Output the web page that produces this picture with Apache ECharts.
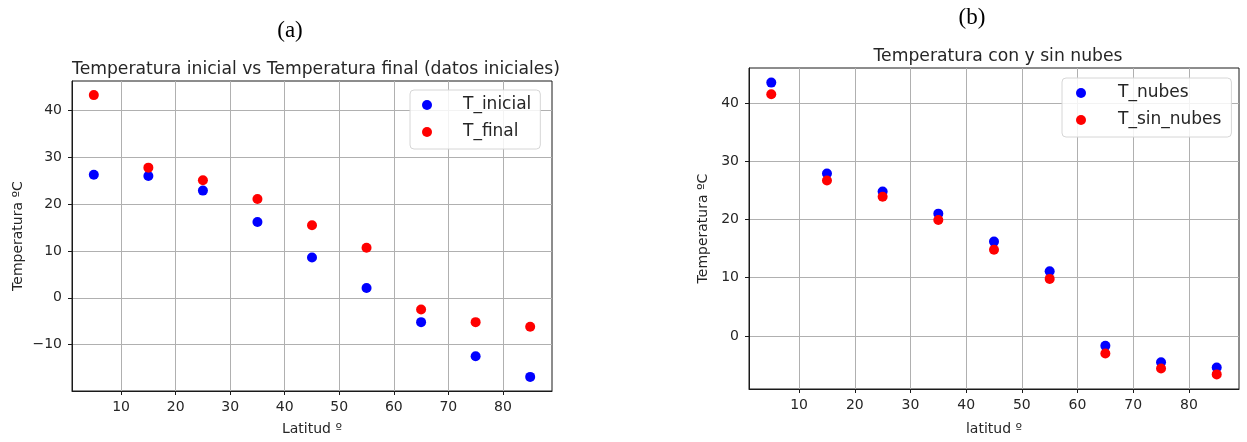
<!DOCTYPE html>
<html>
<head>
<meta charset="utf-8">
<script src="https://cdn.jsdelivr.net/npm/echarts@6/dist/echarts.min.js"></script>
<style>
  html, body { margin: 0; padding: 0; background: #ffffff; }
  #chart { width: 1247px; height: 442px; }
</style>
</head>
<body>
<div id="chart"></div>
<script>
// Latitude bands (degrees) shared by both panels
const latitudes = [5, 15, 25, 35, 45, 55, 65, 75, 85];

// Panel (a): initial vs final temperature
const tInicial = [26.3, 26.0, 22.9, 16.2, 8.6, 2.1, -5.2, -12.5, -16.9];
const tFinal   = [43.3, 27.8, 25.1, 21.1, 15.5, 10.7, -2.5, -5.2, -6.2];

// Panel (b): temperature with and without clouds
const tNubes    = [43.5, 27.9, 24.8, 21.0, 16.2, 11.1, -1.7, -4.5, -5.4];
const tSinNubes = [41.5, 26.7, 23.9, 19.9, 14.8, 9.8, -3.0, -5.6, -6.6];

// Tick values
const xTicks  = [10, 20, 30, 40, 50, 60, 70, 80];
const yTicksA = [-10, 0, 10, 20, 30, 40];
const yTicksB = [0, 10, 20, 30, 40];

const FONT = 'DejaVu Sans';
const TEXT = '#262626';

// matplotlib-style 5% data margins
function padded(values) {
  const lo = Math.min(...values), hi = Math.max(...values);
  const m = (hi - lo) * 0.05;
  return [lo - m, hi + m];
}
const xExt  = padded(latitudes);
const yExtA = padded(tInicial.concat(tFinal));
const yExtB = padded(tNubes.concat(tSinNubes));

const pairs = (xs, ys) => xs.map((x, i) => [x, ys[i]]);
const minus = v => String(v).replace('-', '\u2212');

function xAxisFor(gridIndex, name, nameGap) {
  return {
    type: 'value', gridIndex, min: xExt[0], max: xExt[1],
    name, nameLocation: 'middle', nameGap,
    nameTextStyle: { fontFamily: FONT, fontSize: 14, color: TEXT },
    axisLine: { show: true, onZero: false, lineStyle: { color: '#1a1a1a', width: 1 } },
    axisTick: { show: true, length: 4, customValues: xTicks, lineStyle: { color: '#1a1a1a' } },
    axisLabel: { customValues: xTicks, margin: 9, fontFamily: FONT, fontSize: 14, color: TEXT },
    splitLine: { show: true, lineStyle: { color: '#b0b0b0', width: 1 } }
  };
}
function yAxisFor(gridIndex, ext, ticks, name, nameGap) {
  return {
    type: 'value', gridIndex, min: ext[0], max: ext[1],
    name, nameLocation: 'middle', nameGap,
    nameTextStyle: { fontFamily: FONT, fontSize: 14, color: TEXT },
    axisLine: { show: true, onZero: false, lineStyle: { color: '#1a1a1a', width: 1 } },
    axisTick: { show: true, length: 4, customValues: ticks, lineStyle: { color: '#1a1a1a' } },
    axisLabel: { customValues: ticks, margin: 10, fontFamily: FONT, fontSize: 14, color: TEXT, formatter: minus },
    splitLine: { show: true, lineStyle: { color: '#b0b0b0', width: 1 } }
  };
}
function scatter(name, xi, data, color) {
  return {
    name, type: 'scatter', xAxisIndex: xi, yAxisIndex: xi,
    data, symbol: 'circle', symbolSize: 10,
    itemStyle: { color, opacity: 1 }
  };
}
function legendFor(names, left, top, padding, textGap) {
  return {
    data: names.map(n => ({ name: n, icon: 'circle' })),
    orient: 'vertical', left, top,
    itemWidth: 22, itemHeight: 10, itemGap: 7,
    padding,
    backgroundColor: 'rgba(255,255,255,0.85)',
    borderColor: '#d6d6d6', borderWidth: 1, borderRadius: 4,
    selectedMode: false,
    textStyle: { fontFamily: FONT, fontSize: 17, color: TEXT, lineHeight: 20, padding: [0, 0, 0, textGap] }
  };
}

const chart = echarts.init(document.getElementById('chart'), null, { renderer: 'canvas' });
chart.setOption({
  animation: false,
  backgroundColor: '#ffffff',
  title: [
    { text: '(a)', left: 285, top: 14, textAlign: 'center',
      textStyle: { fontFamily: 'Liberation Serif', fontSize: 23, fontWeight: 'normal', color: '#000' } },
    { text: 'Temperatura inicial vs Temperatura final (datos iniciales)', left: 311, top: 56, textAlign: 'center',
      textStyle: { fontFamily: FONT, fontSize: 17.2, fontWeight: 'normal', color: TEXT } },
    { text: '(b)', left: 967, top: 1, textAlign: 'center',
      textStyle: { fontFamily: 'Liberation Serif', fontSize: 23, fontWeight: 'normal', color: '#000' } },
    { text: 'Temperatura con y sin nubes', left: 993, top: 43, textAlign: 'center',
      textStyle: { fontFamily: FONT, fontSize: 17.2, fontWeight: 'normal', color: TEXT } }
  ],
  grid: [
    { left: 72, top: 81, width: 480, height: 310, show: true, borderColor: '#1a1a1a', borderWidth: 1, backgroundColor: '#fff' },
    { left: 749, top: 68, width: 490, height: 321, show: true, borderColor: '#1a1a1a', borderWidth: 1, backgroundColor: '#fff' }
  ],
  xAxis: [ xAxisFor(0, 'Latitud º', 31), xAxisFor(1, 'latitud º', 33) ],
  yAxis: [
    yAxisFor(0, yExtA, yTicksA, 'Temperatura ºC', 47),
    yAxisFor(1, yExtB, yTicksB, 'Temperatura ºC', 39)
  ],
  legend: [
    legendFor(['T_inicial', 'T_final'], 410, 90, [5, 9, 7, 12], 20),
    legendFor(['T_nubes', 'T_sin_nubes'], 1062, 78, [5, 10, 7, 14], 21)
  ],
  series: [
    scatter('T_inicial', 0, pairs(latitudes, tInicial), '#0000ff'),
    scatter('T_final', 0, pairs(latitudes, tFinal), '#ff0000'),
    scatter('T_nubes', 1, pairs(latitudes, tNubes), '#0000ff'),
    scatter('T_sin_nubes', 1, pairs(latitudes, tSinNubes), '#ff0000')
  ]
});
</script>
</body>
</html>
